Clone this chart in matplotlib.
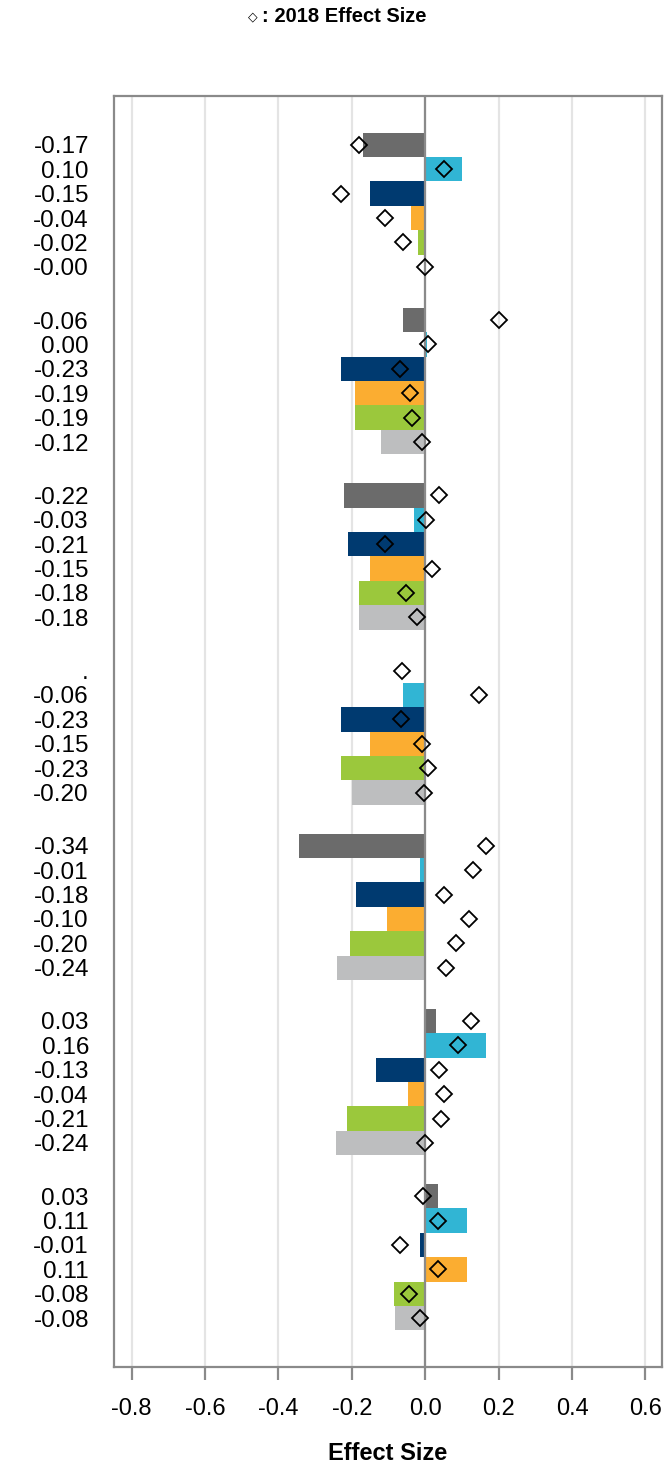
import numpy as np
import matplotlib.pyplot as plt

# bar values per group (dark gray, cyan, navy, orange, green, light gray)
bar_vals = [
    [-0.17, 0.10, -0.15, -0.04, -0.02, -0.003],
    [-0.06, 0.004, -0.23, -0.19, -0.19, -0.12],
    [-0.22, -0.03, -0.21, -0.15, -0.18, -0.18],
    [np.nan, -0.06, -0.23, -0.15, -0.23, -0.20],
    [-0.345, -0.015, -0.188, -0.104, -0.205, -0.239],
    [0.03, 0.165, -0.134, -0.046, -0.213, -0.244],
    [0.035, 0.115, -0.015, 0.113, -0.085, -0.081],
]
bar_labels = [
    ["-0.17", "0.10", "-0.15", "-0.04", "-0.02", "-0.00"],
    ["-0.06", "0.00", "-0.23", "-0.19", "-0.19", "-0.12"],
    ["-0.22", "-0.03", "-0.21", "-0.15", "-0.18", "-0.18"],
    [".", "-0.06", "-0.23", "-0.15", "-0.23", "-0.20"],
    ["-0.34", "-0.01", "-0.18", "-0.10", "-0.20", "-0.24"],
    ["0.03", "0.16", "-0.13", "-0.04", "-0.21", "-0.24"],
    ["0.03", "0.11", "-0.01", "0.11", "-0.08", "-0.08"],
]
# 2018 effect sizes (diamonds)
es_2018 = [
    [-0.18, 0.05, -0.23, -0.11, -0.06, 0.00],
    [0.20, 0.008, -0.068, -0.041, -0.036, -0.01],
    [0.037, 0.003, -0.109, 0.019, -0.052, -0.023],
    [-0.063, 0.147, -0.067, -0.008, 0.008, -0.004],
    [0.165, 0.130, 0.050, 0.119, 0.085, 0.056],
    [0.125, 0.090, 0.037, 0.050, 0.042, 0.0],
    [-0.007, 0.036, -0.069, 0.036, -0.045, -0.015],
]
colors = ["#6b6b6b", "#31b5d4", "#003a70", "#fbad31", "#9bc83c", "#bdbebf"]
xticks = [-0.8, -0.6, -0.4, -0.2, 0.0, 0.2, 0.4, 0.6]

plt.rcParams['font.family'] = ['Liberation Sans', 'DejaVu Sans']

fig = plt.figure(figsize=(6.66, 14.71), dpi=100)
ax = fig.add_axes([0.171, 0.0707, 0.823, 0.864])

step = 7.18
ypos = []
labels = []
for g in range(len(bar_vals)):
    y = g * step + np.arange(6)
    ax.barh(y, bar_vals[g], height=1.0, color=colors, zorder=2)
    ax.plot(es_2018[g], y, 'D', ms=8.3, mfc='none', mec='black', mew=1.3,
            zorder=4, linestyle='none')
    ypos.extend(y)
    labels.extend(bar_labels[g])

ax.axvline(0, color='#8a8a8a', lw=1.6, zorder=3)
ax.set_xlim(-0.848, 0.645)
ax.set_ylim(6 * step + 5 + 2, -2)
ax.set_xticks(xticks)
ax.set_xticklabels(["%.1f" % v for v in xticks], fontsize=17)
ax.set_yticks(ypos)
ax.set_yticklabels(labels, fontsize=17.5)
ax.tick_params(axis='y', length=0, pad=18)
ax.tick_params(axis='x', length=9, width=1.6, color='#8a8a8a', pad=13)
ax.grid(axis='x', color='#e4e4e4', lw=1.6, zorder=0)
ax.set_axisbelow(True)
for s in ax.spines.values():
    s.set_color('#8a8a8a')
    s.set_linewidth(1.6)

ax.set_xlabel("Effect Size", fontsize=17, fontweight='bold', labelpad=16)

fig.text(0.379, 0.9885, "\u25c7", fontsize=9, family='DejaVu Sans',
         ha='center', va='center')
fig.text(0.394, 0.9885, ": 2018 Effect Size", fontsize=14.5, fontweight='bold',
         ha='left', va='center')

fig.savefig("out.png", dpi=100)
